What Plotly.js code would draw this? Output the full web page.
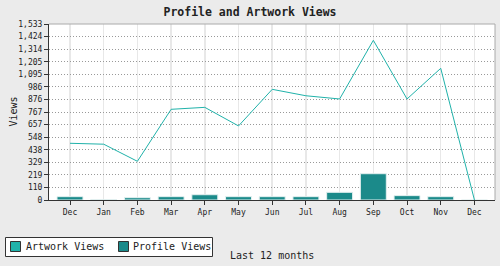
<!DOCTYPE html>
<html>
<head>
<meta charset="utf-8">
<script src="https://cdn.plot.ly/plotly-3.0.1.min.js"></script>
<style>html,body{margin:0;padding:0;background:#ebebeb;}#chart{width:500px;height:266px;}</style>
</head>
<body>
<div id="chart"></div>
<script>
const months = ["Dec","Jan","Feb","Mar","Apr","May","Jun","Jul","Aug","Sep","Oct","Nov","Dec"];
const artworkViews = [494, 486, 337, 790, 807, 645, 964, 908, 880, 1391, 880, 1147, 0];
const profileViews = [29, 2, 20, 29, 46, 29, 29, 29, 67, 229, 38, 29, 0];
const yTickVals = [0,109.5,219,328.5,438,547.5,657,766.5,876,985.5,1095,1204.5,1314,1423.5,1533];
const yTickText = ["0","110","219","329","438","548","657","767","876","986","1,095","1,205","1,314","1,424","1,533"];
const seriesNames = ["Artwork Views", "Profile Views"];
const seriesColors = ["#20b2aa", "#1b8a8a"];

const idx = months.map((m, i) => i);
const mono = "DejaVu Sans Mono, monospace";

// plot area in pixels: x 49..495, y 24..200
const PL = 49, PR = 495, PT = 24, PB = 200;
const px = x => (x - PL) / (PR - PL);
const py = y => (PB - y) / (PB - PT);

const traces = [
  {type: "scatter", mode: "lines", x: idx, y: artworkViews, name: seriesNames[0],
   line: {color: seriesColors[0], width: 1}, hoverinfo: "skip"},
  {type: "bar", x: idx, y: profileViews, name: seriesNames[1], width: 0.77,
   marker: {color: seriesColors[1], line: {color: "#e4f0f0", width: 1}}}
];

// manual legend (box, swatches, labels)
const legendShapes = [
  {type: "rect", xref: "paper", yref: "paper", x0: px(5.5), x1: px(212.5), y0: py(237.5), y1: py(256.5),
   fillcolor: "#ffffff", line: {color: "#333", width: 1}},
  {type: "rect", xref: "paper", yref: "paper", x0: px(10.5), x1: px(20.5), y0: py(241.5), y1: py(251.5),
   fillcolor: seriesColors[0], line: {color: "#333", width: 1}},
  {type: "rect", xref: "paper", yref: "paper", x0: px(118.5), x1: px(128.5), y0: py(241.5), y1: py(251.5),
   fillcolor: seriesColors[1], line: {color: "#333", width: 1}}
];
const legendText = [
  {text: seriesNames[0], xref: "paper", yref: "paper", x: px(24), y: py(246.5), xanchor: "left", yanchor: "middle",
   showarrow: false, font: {family: mono, size: 10, color: "#222"}},
  {text: seriesNames[1], xref: "paper", yref: "paper", x: px(131), y: py(246.5), xanchor: "left", yanchor: "middle",
   showarrow: false, font: {family: mono, size: 10, color: "#222"}}
];

const layout = {
  width: 500, height: 266,
  margin: {l: 49, r: 5, t: 24, b: 66},
  paper_bgcolor: "#ebebeb", plot_bgcolor: "#ffffff",
  font: {family: mono, size: 8, color: "#222"},
  title: {text: "<b>Profile and Artwork Views</b>", font: {family: mono, size: 11.5, color: "#222"},
          x: 0.5, xanchor: "center", y: 0.955, yanchor: "middle"},
  barmode: "overlay",
  showlegend: false,
  xaxis: {range: [-0.623, 12.61], tickvals: idx, ticktext: months, ticks: "outside", ticklen: 4,
          tickcolor: "#333", showline: true, linecolor: "#333", linewidth: 1,
          showgrid: true, gridcolor: "#e8e8e8", gridwidth: 1.5, zeroline: false, fixedrange: true,
          tickfont: {family: mono, size: 8, color: "#222"}},
  yaxis: {range: [0, 1533], tickvals: yTickVals, ticktext: yTickText, ticks: "outside", ticklen: 4,
          tickcolor: "#333", showline: true, linecolor: "#333", linewidth: 1,
          showgrid: true, gridcolor: "#999", griddash: "1px,2px", gridwidth: 1, zeroline: false, fixedrange: true,
          tickfont: {family: mono, size: 8, color: "#222"}},
  shapes: [
    {type: "line", xref: "paper", yref: "paper", x0: 0, x1: 1, y0: 1, y1: 1, line: {color: "#aaa", width: 1}},
    {type: "line", xref: "paper", yref: "paper", x0: 1, x1: 1, y0: 0, y1: 1, line: {color: "#aaa", width: 1}}
  ].concat(legendShapes),
  annotations: [
    {text: "Last 12 months", xref: "paper", yref: "paper", x: 0.5, y: py(255), xanchor: "center", yanchor: "middle",
     showarrow: false, font: {family: mono, size: 10, color: "#222"}},
    {text: "Views", xref: "paper", yref: "paper", x: px(12.5), y: 0.5, xanchor: "center", yanchor: "middle",
     textangle: -90, showarrow: false, font: {family: mono, size: 10, color: "#222"}}
  ].concat(legendText)
};

Plotly.newPlot("chart", traces, layout, {displayModeBar: false, staticPlot: true});
</script>
</body>
</html>
